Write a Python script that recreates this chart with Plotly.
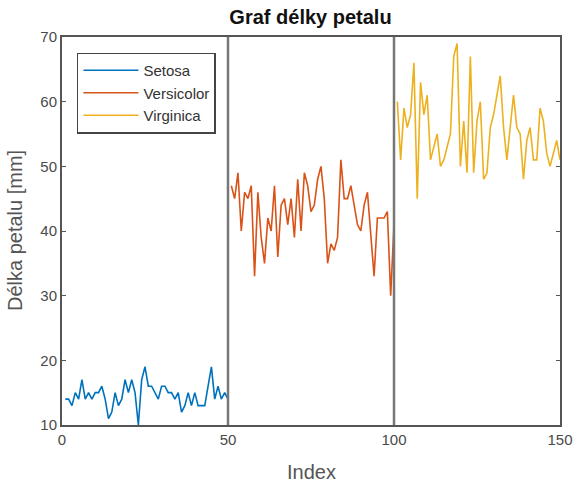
import plotly.graph_objects as go

setosa = [14,14,13,15,14,17,14,15,14,15,15,16,14,11,12,15,13,14,17,15,17,15,10,17,19,16,16,15,14,16,16,15,15,14,15,12,13,15,13,15,13,13,13,16,19,14,16,14,15,14]
versicolor = [47,45,49,40,46,45,47,33,46,39,35,42,40,47,36,44,45,41,45,39,48,40,49,47,43,44,48,50,45,35,38,37,39,51,45,45,47,44,41,40,44,46,40,33,42,42,42,43,30,41]
virginica = [60,51,59,56,58,66,45,63,58,61,51,53,55,50,51,53,55,67,69,50,57,49,67,49,57,60,48,49,56,58,61,64,56,51,56,61,56,55,48,54,56,51,51,59,57,52,50,52,54,51]
names = ["Setosa", "Versicolor", "Virginica"]
colors = ["#0072BD", "#D95319", "#EDB120"]
separators = [50, 100]

fig = go.Figure()
start = 1
for name, vals, c in zip(names, [setosa, versicolor, virginica], colors):
    xs = list(range(start, start + len(vals)))
    fig.add_trace(go.Scatter(x=xs, y=vals, mode="lines", name=name,
                             line=dict(color=c, width=1.6)))
    start += len(vals)

for s in separators:
    fig.add_shape(type="line", x0=s, x1=s, y0=0, y1=1, yref="paper",
                  line=dict(color="#777777", width=2.5))

axis_common = dict(showgrid=False, zeroline=False, showline=True, linecolor="#555555",
                   linewidth=2, mirror="ticks", ticks="inside", ticklen=4,
                   tickcolor="#555555", tickfont=dict(size=15, color="#4a4a4a"),
                   automargin=False)
title_font = dict(size=20, color="#555555")

fig.update_layout(
    width=575, height=482,
    margin=dict(l=62, r=15, t=37, b=57),
    paper_bgcolor="white", plot_bgcolor="white",
    font=dict(family="Liberation Sans, Arial, sans-serif"),
    title=dict(text="<b>Graf délky petalu</b>", x=0.54, xanchor="center",
               y=0.964, yanchor="middle", font=dict(size=20, color="#111111")),
    xaxis=dict(range=[0, 150], tickvals=[0, 50, 100, 150], **axis_common),
    yaxis=dict(range=[10, 70], tickvals=[10, 20, 30, 40, 50, 60, 70], **axis_common),
    legend=dict(x=0.03, y=0.96, xanchor="left", yanchor="top",
                bordercolor="#444444", borderwidth=1.5, bgcolor="white",
                font=dict(size=15, color="#333333"), tracegroupgap=0, itemwidth=55),
    showlegend=True,
    annotations=[
        dict(text="Index", xref="paper", yref="paper", x=0.5, y=0, xanchor="center",
             yanchor="middle", yshift=-47, showarrow=False, font=title_font),
        dict(text="Délka petalu [mm]", xref="paper", yref="paper", x=0, y=0.5,
             xanchor="center", yanchor="middle", xshift=-47, textangle=-90,
             showarrow=False, font=title_font),
    ],
)

fig.write_html("out.html")
